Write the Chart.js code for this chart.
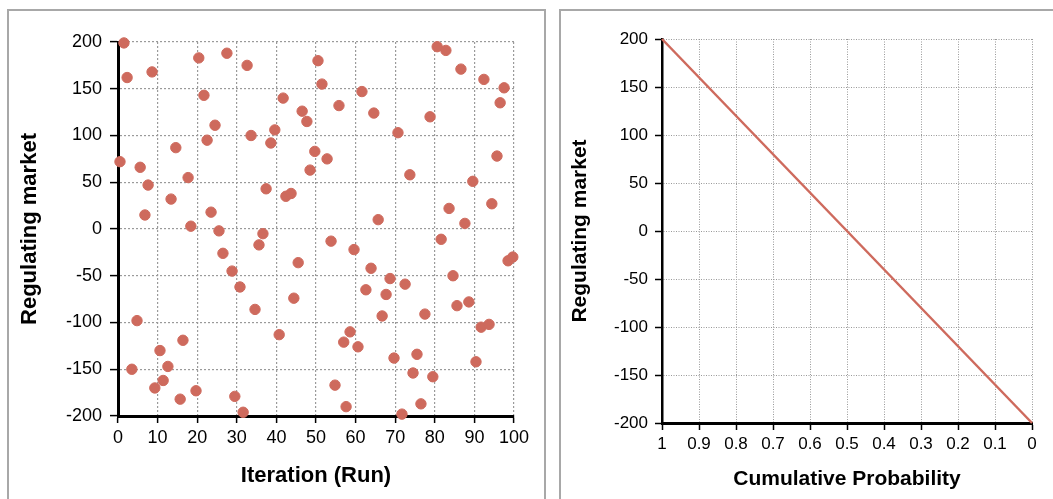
<!DOCTYPE html>
<html>
<head>
  <title>Regulating market</title>
  <script src="https://cdn.jsdelivr.net/npm/chart.js"></script>
  <style>
    body { margin: 0; width: 1053px; height: 499px; overflow: hidden; background: #fff; position: relative; }
    .panel { position: absolute; top: 9px; height: 600px; border: 2px solid #a8a8a8; box-sizing: border-box; }
    .wrap { position: absolute; top: 0; height: 499px; }
  </style>
</head>
<body>
  <div class="panel" style="left: 7px; width: 539px;"></div>
  <div class="panel" style="left: 559px; width: 600px;"></div>
  <div class="wrap" style="left: 0; width: 550px;"><canvas id="runChart" width="550" height="499"></canvas></div>
  <div class="wrap" style="left: 550px; width: 503px;"><canvas id="cdfChart" width="503" height="499"></canvas></div>

  <script>
    // Iteration (run) position and value
    const iterX = [0.5,1.5,2.3,3.5,4.8,5.6,6.8,7.6,8.6,9.3,10.6,11.4,12.6,13.4,14.6,15.7,16.4,17.7,18.4,19.7,
      20.4,21.7,22.5,23.5,24.5,25.5,26.5,27.5,28.8,29.5,30.8,31.6,32.6,33.6,34.6,35.6,36.6,37.4,38.6,39.6,
      40.7,41.7,42.4,43.7,44.4,45.5,46.5,47.7,48.5,49.7,50.5,51.5,52.8,53.8,54.8,55.8,57,57.6,58.6,59.6,
      60.6,61.6,62.6,63.9,64.6,65.7,66.7,67.7,68.7,69.7,70.7,71.7,72.5,73.7,74.5,75.5,76.5,77.5,78.8,79.5,
      80.6,81.6,82.8,83.6,84.6,85.6,86.6,87.6,88.6,89.6,90.4,91.7,92.4,93.7,94.4,95.7,96.5,97.5,98.5,99.7];
    const marketValues = [72,199,162,-150,-98,66,15,47,168,-170,-130,-162,-147,32,87,-182,-119,55,3,-173,
      183,143,95,18,111,-2,-26,188,-45,-179,-62,-196,175,100,-86,-17,-5,43,92,106,
      -113,140,35,38,-74,-36,126,115,63,83,180,155,75,-13,-167,132,-121,-190,-110,-22,
      -126,147,-65,-42,124,10,-93,-70,-53,-138,103,-198,-59,58,-154,-134,-187,-91,120,-158,
      195,-11,191,22,-50,-82,171,6,-78,51,-142,-105,160,-102,27,78,135,151,-34,-30];

    // Cumulative probability curve (end points)
    const cumProb = [1, 0];
    const cumValues = [200, -200];

    const RED = '#ce6a5d';
    const FONT = "'Liberation Sans', Arial, sans-serif";

    // Scatter: regulating market by iteration
    new Chart(document.getElementById('runChart'), {
      type: 'scatter',
      data: {
        datasets: [{
          data: iterX.map((x, i) => ({ x: x, y: marketValues[i] })),
          backgroundColor: RED,
          borderColor: RED,
          pointRadius: 5.2,
          pointHoverRadius: 5.2,
          clip: false
        }]
      },
      options: {
        responsive: false,
        animation: false,
        events: [],
        layout: { padding: { left: 0, top: 42, right: 36, bottom: 0 } },
        plugins: { legend: { display: false }, tooltip: { enabled: false } },
        scales: {
          x: {
            type: 'linear', min: 0, max: 100,
            afterFit: (s) => { s.height = 83; },
            ticks: { stepSize: 10, color: '#000', font: { family: FONT, size: 18 }, padding: 4, maxRotation: 0 },
            grid: { color: '#9a9a9a', lineWidth: 1.2, tickLength: 7, tickColor: '#000', tickWidth: 1.5, tickBorderDash: [] },
            border: { color: '#000', width: 3, dash: [2, 2] },
            title: { display: true, text: 'Iteration (Run)', color: '#000',
              font: { family: FONT, size: 22, weight: 'bold', lineHeight: 1 }, padding: { top: 0, bottom: 12 } }
          },
          y: {
            type: 'linear', min: -200, max: 200,
            afterFit: (s) => { s.width = 118; },
            ticks: { stepSize: 50, color: '#000', font: { family: FONT, size: 18 }, padding: 8 },
            grid: { color: '#9a9a9a', lineWidth: 1.2, tickLength: 8, tickColor: '#000', tickWidth: 1.5, tickBorderDash: [] },
            border: { color: '#000', width: 3, dash: [2, 2] },
            title: { display: true, text: 'Regulating market', color: '#000',
              font: { family: FONT, size: 22, weight: 'bold', lineHeight: 1 }, padding: { top: 19, bottom: 0 } }
          }
        }
      }
    });

    // Cumulative probability line
    new Chart(document.getElementById('cdfChart'), {
      type: 'scatter',
      data: {
        datasets: [{
          data: cumProb.map((p, i) => ({ x: p, y: cumValues[i] })),
          showLine: true,
          borderColor: RED,
          borderWidth: 2.5,
          pointRadius: 0,
          clip: false
        }]
      },
      options: {
        responsive: false,
        animation: false,
        events: [],
        layout: { padding: { left: 0, top: 39, right: 21, bottom: 0 } },
        plugins: { legend: { display: false }, tooltip: { enabled: false } },
        scales: {
          x: {
            type: 'linear', min: 0, max: 1, reverse: true,
            afterFit: (s) => { s.height = 76; },
            ticks: { stepSize: 0.1, color: '#000', font: { family: FONT, size: 17 }, padding: 4, maxRotation: 0,
              callback: (v) => String(+v.toFixed(1)) },
            grid: { color: '#999', lineWidth: 1, tickLength: 7, tickColor: '#000', tickWidth: 1.5, tickBorderDash: [] },
            border: { color: '#000', width: 3, dash: [1, 1.5] },
            title: { display: true, text: 'Cumulative Probability', color: '#000',
              font: { family: FONT, size: 21, weight: 'bold', lineHeight: 1 }, padding: { top: 0, bottom: 9 } }
          },
          y: {
            type: 'linear', min: -200, max: 200,
            afterFit: (s) => { s.width = 112; },
            ticks: { stepSize: 50, color: '#000', font: { family: FONT, size: 17 }, padding: 7 },
            grid: { color: '#999', lineWidth: 1, tickLength: 7, tickColor: '#000', tickWidth: 1.5, tickBorderDash: [] },
            border: { color: '#000', width: 2.5, dash: [1, 1.5] },
            title: { display: true, text: 'Regulating market', color: '#000',
              font: { family: FONT, size: 21, weight: 'bold', lineHeight: 1 }, padding: { top: 20, bottom: 0 } }
          }
        }
      }
    });
  </script>
</body>
</html>
